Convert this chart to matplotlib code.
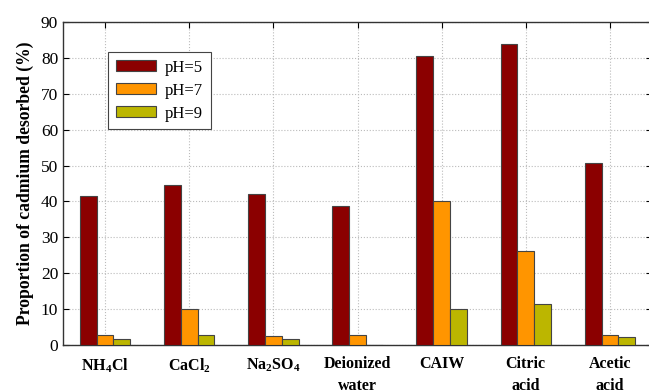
import numpy as np
import matplotlib
matplotlib.use("Agg")
import matplotlib.pyplot as plt

plt.rcParams['font.family'] = ['Liberation Serif', 'DejaVu Serif']
plt.rcParams['mathtext.fontset'] = 'custom'
plt.rcParams['mathtext.rm'] = 'Liberation Serif:bold'
plt.rcParams['mathtext.bf'] = 'Liberation Serif:bold'

categories = [r'NH$_4$Cl', r'CaCl$_2$', r'Na$_2$SO$_4$', 'Deionized\nwater',
              'CAIW', 'Citric\nacid', 'Acetic\nacid']
ph5 = [41.6, 44.6, 42.0, 38.6, 80.6, 83.8, 50.8]
ph7 = [2.8, 10.1, 2.4, 2.7, 40.0, 26.3, 2.9]
ph9 = [1.6, 2.7, 1.6, 0.0, 10.1, 11.3, 2.3]
series_labels = ['pH=5', 'pH=7', 'pH=9']
colors = ['#8b0000', '#ff9500', '#bcb600']

fig = plt.figure(figsize=(6.49, 3.92), dpi=100)
ax = fig.add_axes([63/649, 47/392, 589/649, 323/392])

x = np.arange(1, len(categories) + 1)
w = 0.2
for i, (vals, lab, c) in enumerate(zip([ph5, ph7, ph9], series_labels, colors)):
    ax.bar(x + (i - 1) * w, vals, w, color=c, edgecolor='#444444',
           linewidth=0.8, label=lab, zorder=3)

ax.set_xlim(0.5, 7.5)
ax.set_ylim(0, 90)
ax.set_yticks(np.arange(0, 91, 10))
ax.set_xticks(x)
ax.set_xticklabels(categories, fontsize=11.5, fontweight='bold', linespacing=1.5)
ax.tick_params(axis='x', direction='in', top=True, length=4, pad=8)
ax.tick_params(axis='y', direction='in', right=True, length=4, labelsize=12.5)
ax.grid(True, linestyle=':', color='#bbbbbb', linewidth=0.8, zorder=0)
for s in ax.spines.values():
    s.set_color('#333333')
    s.set_linewidth(1.0)

ax.set_ylabel('Proportion of cadmium desorbed (%)', fontsize=12.7,
              fontweight='bold', labelpad=5)

leg = ax.legend(loc='upper left', bbox_to_anchor=(0.077, 0.907),
                borderaxespad=0, fontsize=12, handlelength=2.4,
                handleheight=0.6, handletextpad=0.55, fancybox=False,
                framealpha=1, edgecolor='#444444', borderpad=0.45,
                labelspacing=0.42)
leg.get_frame().set_linewidth(0.8)

fig.savefig('out.png', dpi=100)
